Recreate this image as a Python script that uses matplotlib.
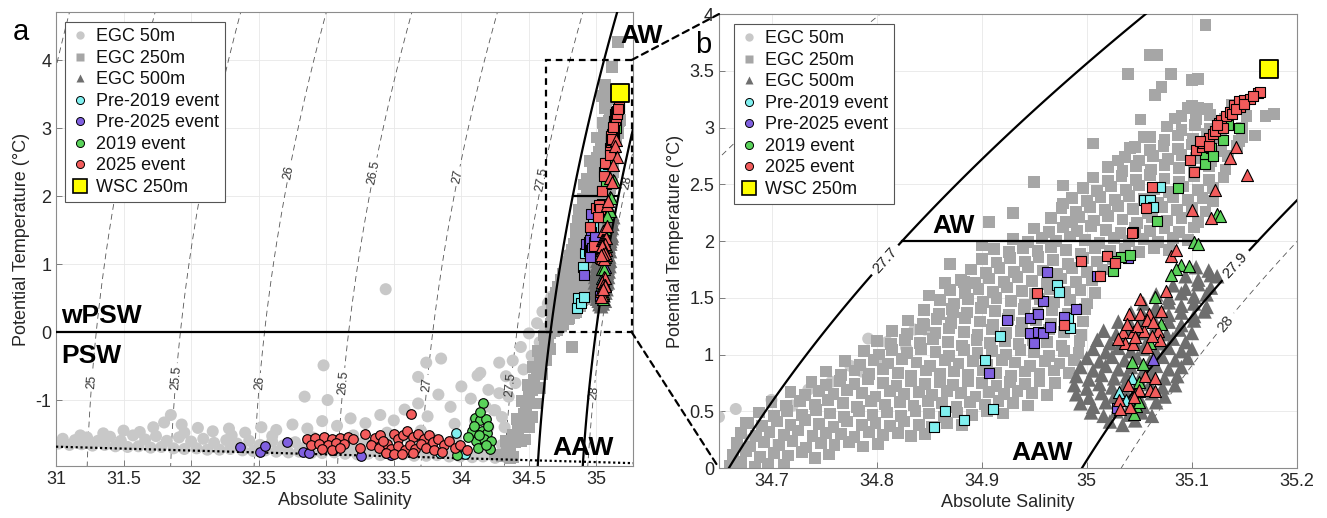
import numpy as np
import matplotlib
matplotlib.use('Agg')
import matplotlib.pyplot as plt
from matplotlib.lines import Line2D
from matplotlib.patches import Rectangle, ConnectionPatch
from matplotlib.ticker import FuncFormatter

plt.rcParams['font.family'] = ['Liberation Sans', 'DejaVu Sans']
plt.rcParams['axes.unicode_minus'] = False
plt.rcParams['lines.dashed_pattern'] = [7.0, 5.0]

# ---------------- data ----------------
# EGC 50 m (light grey circles): (Absolute Salinity, Potential Temperature)
egc50_pts = [
    (31.02,-1.64),(31.10,-1.66),(31.19,-1.65),(31.27,-1.67),(31.36,-1.66),(31.44,-1.68),(31.53,-1.69),(31.61,-1.68),
    (31.70,-1.70),(31.78,-1.69),(31.87,-1.71),(31.95,-1.72),(32.04,-1.71),(32.12,-1.73),(32.21,-1.73),(32.29,-1.72),
    (32.38,-1.74),(32.46,-1.75),(32.55,-1.74),(32.63,-1.76),(32.72,-1.77),(32.80,-1.76),(32.89,-1.78),(32.97,-1.78),
    (33.06,-1.77),(33.14,-1.79),(33.23,-1.80),(33.31,-1.79),(33.40,-1.81),(33.48,-1.81),(33.57,-1.80),(33.65,-1.82),
    (33.74,-1.82),(33.82,-1.81),(33.91,-1.83),(33.99,-1.83),(34.08,-1.84),(34.16,-1.83),(34.25,-1.85),(34.33,-1.84),
    (31.05,-1.57),(31.14,-1.59),(31.23,-1.55),(31.31,-1.60),(31.40,-1.54),(31.48,-1.60),(31.57,-1.52),(31.66,-1.58),
    (31.74,-1.53),(31.82,-1.60),(31.91,-1.55),(32.00,-1.61),(32.09,-1.57),(32.17,-1.63),(32.26,-1.59),(32.34,-1.64),
    (32.43,-1.60),(32.51,-1.66),(32.60,-1.61),(32.68,-1.67),(32.77,-1.62),(32.85,-1.68),(32.94,-1.61),(33.02,-1.69),
    (33.11,-1.62),(33.19,-1.70),(33.28,-1.61),(33.36,-1.71),(33.45,-1.60),(33.53,-1.72),(33.62,-1.58),(33.70,-1.73),
    (33.79,-1.57),(33.87,-1.74),(33.96,-1.55),(34.04,-1.75),(34.13,-1.52),(34.21,-1.74),(34.30,-1.66),
    (31.18,-1.52),(31.35,-1.49),(31.50,-1.45),(31.62,-1.47),(31.72,-1.40),(31.80,-1.33),(31.85,-1.22),(31.93,-1.36),
    (32.05,-1.41),(32.16,-1.46),(32.28,-1.42),(32.40,-1.48),(32.52,-1.40),(32.63,-1.44),(32.75,-1.36),(32.86,-1.42),
    (32.97,-1.31),(33.08,-1.38),(33.18,-1.27),(33.29,-1.34),(33.40,-1.22),(33.50,-1.30),(33.58,-1.14),(33.68,-1.05),
    (33.75,-1.24),(33.83,-0.92),(33.92,-1.10),(34.00,-0.80),(34.07,-0.98),(34.14,-0.60),(34.20,-0.85),(34.25,-1.15),
    (34.28,-0.45),(34.32,-1.40),(33.45,-1.48),(33.70,-1.45),(33.95,-1.35),(34.10,-1.30),(34.18,-1.10),(33.20,-1.52),
    (32.90,-1.55),(32.60,-1.53),(32.30,-1.52),(31.95,-1.48),
    (33.44,0.63),(32.98,-0.49),(32.84,-0.95),(33.01,-1.00),(33.74,-0.45),(33.85,-0.39),(33.68,-0.66),(34.12,-0.64),
    (34.20,-1.40),(34.24,-1.15),(34.28,-0.90),(34.33,-0.65),(34.38,-0.42),(34.44,-0.22),(34.50,-0.02),(34.56,0.13),
    (34.60,0.30),(34.64,0.42),(34.30,-1.25),(34.35,-0.95),(34.40,-0.75),(34.46,-0.55),(34.52,-0.35),(34.58,-0.15),
    (34.62,0.05),(34.68,0.25),
    (34.650,0.45),(34.666,0.52),(34.700,0.60),(34.720,0.55),(34.735,0.69),(34.757,0.76),(34.775,0.90),(34.786,0.85),
    (34.792,1.14),(34.800,0.95),(34.810,1.11),(34.828,1.06),(34.836,1.22),(34.846,1.22),
]

# EGC 250 m (medium grey squares)
egc250_pts = [
    (34.30,-1.82),(34.34,-1.78),(34.38,-1.84),(34.36,-1.70),(34.40,-1.62),(34.38,-1.52),(34.42,-1.45),(34.44,-1.35),
    (34.41,-1.28),(34.46,-1.20),(34.48,-1.10),(34.45,-1.02),(34.50,-0.95),(34.52,-0.85),(34.49,-0.78),(34.54,-0.70),
    (34.56,-0.60),(34.53,-0.52),(34.58,-0.45),(34.60,-0.35),(34.57,-0.28),(34.62,-0.20),(34.64,-0.10),(34.61,-0.05),
    (34.66,-0.02),(34.47,-1.58),(34.50,-1.40),(34.52,-1.25),(34.55,-1.05),(34.58,-0.82),(34.60,-0.62),(34.63,-0.42),
    (34.66,-0.25),(34.82,-0.22),(34.25,-1.80),(34.33,-1.60),(34.44,-1.60),(34.36,-1.85),
    (34.660,0.02),(34.671,0.05),(34.684,0.01),(34.697,0.04),(34.712,0.03),
    (34.663,0.12),(34.676,0.15),(34.689,0.10),(34.702,0.13),(34.716,0.11),(34.729,0.14),(34.741,0.09),(34.755,0.12),
    (34.667,0.22),(34.680,0.19),(34.693,0.23),(34.707,0.20),(34.720,0.24),(34.733,0.18),(34.747,0.22),(34.760,0.20),
    (34.774,0.23),(34.787,0.19),(34.801,0.21),
    (34.671,0.31),(34.685,0.28),(34.698,0.32),(34.712,0.29),(34.725,0.33),(34.739,0.28),(34.752,0.31),(34.766,0.30),
    (34.779,0.27),(34.793,0.32),(34.806,0.29),(34.820,0.31),(34.833,0.28),(34.846,0.30),
    (34.678,0.40),(34.691,0.37),(34.705,0.41),(34.718,0.38),(34.732,0.42),(34.745,0.39),(34.759,0.36),(34.772,0.41),
    (34.786,0.38),(34.799,0.40),(34.813,0.37),(34.826,0.41),(34.840,0.38),(34.853,0.36),(34.867,0.40),(34.881,0.38),
    (34.688,0.49),(34.702,0.46),(34.715,0.50),(34.729,0.47),(34.742,0.51),(34.756,0.48),(34.769,0.45),(34.783,0.50),
    (34.796,0.47),(34.810,0.49),(34.823,0.46),(34.837,0.50),(34.850,0.48),(34.864,0.45),(34.877,0.49),(34.891,0.47),
    (34.905,0.50),(34.920,0.48),
    (34.700,0.58),(34.714,0.55),(34.727,0.59),(34.741,0.56),(34.754,0.60),(34.768,0.57),(34.781,0.54),(34.795,0.59),
    (34.808,0.56),(34.822,0.58),(34.835,0.55),(34.849,0.59),(34.862,0.57),(34.876,0.54),(34.889,0.58),(34.903,0.56),
    (34.916,0.59),(34.930,0.57),(34.944,0.55),
    (34.718,0.67),(34.732,0.64),(34.745,0.68),(34.759,0.65),(34.772,0.69),(34.786,0.66),(34.799,0.63),(34.813,0.68),
    (34.826,0.65),(34.840,0.67),(34.853,0.64),(34.867,0.68),(34.880,0.66),(34.894,0.63),(34.907,0.67),(34.921,0.65),
    (34.934,0.68),(34.948,0.66),(34.962,0.64),
    (34.738,0.76),(34.752,0.73),(34.765,0.77),(34.779,0.74),(34.792,0.78),(34.806,0.75),(34.819,0.72),(34.833,0.77),
    (34.846,0.74),(34.860,0.76),(34.873,0.73),(34.887,0.77),(34.900,0.75),(34.914,0.72),(34.927,0.76),(34.941,0.74),
    (34.955,0.77),(34.970,0.75),
    (34.752,0.85),(34.766,0.82),(34.779,0.86),(34.793,0.83),(34.806,0.87),(34.820,0.84),(34.833,0.81),(34.847,0.86),
    (34.860,0.83),(34.874,0.85),(34.887,0.82),(34.901,0.86),(34.914,0.84),(34.928,0.81),(34.941,0.85),(34.955,0.83),
    (34.969,0.86),(34.983,0.84),
    (34.770,0.94),(34.784,0.91),(34.797,0.95),(34.811,0.92),(34.824,0.96),(34.838,0.93),(34.851,0.90),(34.865,0.95),
    (34.878,0.92),(34.892,0.94),(34.905,0.91),(34.919,0.95),(34.932,0.93),(34.946,0.90),(34.960,0.94),(34.974,0.92),
    (34.988,0.95),
    (34.788,1.03),(34.802,1.00),(34.815,1.04),(34.829,1.01),(34.842,1.05),(34.856,1.02),(34.869,0.99),(34.883,1.04),
    (34.896,1.01),(34.910,1.03),(34.923,1.00),(34.937,1.04),(34.950,1.02),(34.964,0.99),(34.978,1.03),(34.992,1.01),
    (34.800,1.12),(34.814,1.09),(34.827,1.13),(34.841,1.10),(34.854,1.14),(34.868,1.11),(34.881,1.08),(34.895,1.13),
    (34.908,1.10),(34.922,1.12),(34.935,1.09),(34.949,1.13),(34.962,1.11),(34.976,1.08),(34.993,1.12),
    (34.815,1.21),(34.829,1.18),(34.842,1.22),(34.856,1.19),(34.869,1.23),(34.883,1.20),(34.896,1.17),(34.910,1.22),
    (34.923,1.19),(34.937,1.21),(34.950,1.18),(34.964,1.22),(34.978,1.20),(34.995,1.17),
    (34.830,1.30),(34.844,1.27),(34.857,1.31),(34.871,1.28),(34.884,1.32),(34.898,1.29),(34.911,1.26),(34.925,1.31),
    (34.938,1.28),(34.952,1.30),(34.966,1.27),(34.980,1.31),(34.996,1.29),
    (34.845,1.39),(34.859,1.36),(34.872,1.40),(34.886,1.37),(34.899,1.41),(34.913,1.38),(34.926,1.35),(34.940,1.40),
    (34.953,1.37),(34.967,1.39),(34.982,1.36),(34.998,1.40),
    (34.860,1.48),(34.874,1.45),(34.887,1.49),(34.901,1.46),(34.914,1.50),(34.928,1.47),(34.941,1.44),(34.955,1.49),
    (34.969,1.46),(34.984,1.48),(35.000,1.45),
    (34.870,1.57),(34.884,1.54),(34.897,1.58),(34.911,1.55),(34.924,1.59),(34.938,1.56),(34.951,1.53),(34.965,1.58),
    (34.979,1.55),(34.994,1.57),(35.008,1.54),
    (34.880,1.66),(34.894,1.63),(34.907,1.67),(34.921,1.64),(34.934,1.68),(34.948,1.65),(34.962,1.62),(34.976,1.67),
    (34.990,1.64),(35.005,1.66),
    (34.890,1.75),(34.904,1.72),(34.917,1.76),(34.931,1.73),(34.944,1.77),(34.958,1.74),(34.972,1.71),(34.986,1.76),
    (35.000,1.73),(35.015,1.75),
    (34.900,1.84),(34.914,1.81),(34.927,1.85),(34.941,1.82),(34.954,1.86),(34.968,1.83),(34.982,1.80),(34.996,1.85),
    (35.010,1.82),(35.025,1.84),
    (34.912,1.93),(34.926,1.90),(34.939,1.94),(34.953,1.91),(34.966,1.95),(34.980,1.92),(34.994,1.89),(35.008,1.94),
    (35.022,1.91),(35.036,1.93),(35.050,1.90),(35.064,1.94),(35.078,1.92),
    (34.930,2.02),(34.944,1.99),(34.957,2.03),(34.971,2.00),(34.984,2.04),(34.998,2.01),(35.012,1.98),(35.026,2.03),
    (35.040,2.00),(35.054,2.02),(35.068,1.99),(35.082,2.03),(35.096,2.01),
    (34.950,2.11),(34.964,2.08),(34.977,2.12),(34.991,2.09),(35.004,2.13),(35.018,2.10),(35.032,2.07),(35.046,2.12),
    (35.060,2.09),(35.074,2.11),(35.088,2.08),(35.102,2.12),
    (34.966,2.20),(34.980,2.17),(34.993,2.21),(35.007,2.18),(35.020,2.22),(35.034,2.19),(35.048,2.16),(35.062,2.21),
    (35.076,2.18),(35.090,2.20),(35.106,2.17),
    (34.976,2.29),(34.990,2.26),(35.003,2.30),(35.017,2.27),(35.030,2.31),(35.044,2.28),(35.058,2.25),(35.072,2.30),
    (35.086,2.27),(35.100,2.29),(35.113,2.26),
    (34.986,2.38),(35.000,2.35),(35.013,2.39),(35.027,2.36),(35.040,2.40),(35.054,2.37),(35.068,2.34),(35.082,2.39),
    (35.096,2.36),(35.110,2.38),(35.120,2.35),
    (34.996,2.47),(35.010,2.44),(35.023,2.48),(35.037,2.45),(35.050,2.49),(35.064,2.46),(35.078,2.43),(35.092,2.48),
    (35.106,2.45),(35.120,2.47),
    (35.006,2.56),(35.020,2.53),(35.033,2.57),(35.047,2.54),(35.060,2.58),(35.074,2.55),(35.088,2.52),(35.102,2.57),
    (35.116,2.54),(35.130,2.56),
    (35.020,2.65),(35.034,2.62),(35.047,2.66),(35.061,2.63),(35.074,2.67),(35.088,2.64),(35.102,2.61),(35.116,2.66),
    (35.132,2.63),
    (35.036,2.74),(35.050,2.71),(35.063,2.75),(35.077,2.72),(35.090,2.76),(35.104,2.73),(35.118,2.70),(35.134,2.75),
    (35.046,2.83),(35.060,2.80),(35.073,2.84),(35.087,2.81),(35.100,2.85),(35.114,2.82),(35.128,2.79),(35.143,2.84),
    (35.060,2.92),(35.074,2.89),(35.087,2.93),(35.101,2.90),(35.114,2.94),(35.128,2.91),(35.145,2.88),
    (35.076,3.01),(35.090,2.98),(35.103,3.02),(35.117,2.99),(35.130,3.03),(35.148,3.00),
    (35.090,3.10),(35.104,3.07),(35.117,3.11),(35.131,3.08),(35.152,3.10),
    (35.100,3.19),(35.114,3.16),(35.138,3.20),
    (35.113,3.90),(35.060,3.64),(35.067,3.64),(35.039,3.47),(35.080,3.47),(35.071,3.36),(35.065,3.29),(35.100,3.42),
    (35.106,3.43),(35.096,3.17),(35.106,3.17),(35.051,3.07),(35.084,3.08),(35.054,2.92),(35.006,2.86),(35.041,2.82),
    (35.030,2.71),(34.950,2.52),(34.977,2.49),(34.977,2.33),(34.907,2.17),(34.986,2.17),(35.170,3.10),(35.178,3.12),
    (35.160,2.93),(35.148,2.92),(34.900,1.96),(34.865,1.63),(34.883,1.64),(34.873,1.37),(34.845,1.26),(34.676,0.40),
    (35.160,4.27),(34.930,2.25),(34.870,1.80),(34.850,1.52),
]

# EGC 500 m (dark grey triangles)
egc500_pts = [
    (35.022,0.41),(35.034,0.38),(35.046,0.42),
    (35.004,0.49),(35.016,0.46),(35.028,0.50),(35.040,0.47),(35.052,0.49),(35.062,0.46),
    (34.994,0.57),(35.006,0.54),(35.018,0.58),(35.030,0.55),(35.042,0.57),(35.054,0.54),(35.066,0.58),
    (34.990,0.65),(35.002,0.62),(35.014,0.66),(35.026,0.63),(35.038,0.65),(35.050,0.62),(35.062,0.66),(35.074,0.63),
    (34.988,0.73),(35.000,0.70),(35.012,0.74),(35.024,0.71),(35.036,0.73),(35.048,0.70),(35.060,0.74),(35.072,0.71),
    (35.084,0.73),
    (34.990,0.81),(35.002,0.78),(35.014,0.82),(35.026,0.79),(35.038,0.81),(35.050,0.78),(35.062,0.82),(35.074,0.79),
    (35.086,0.81),
    (34.994,0.89),(35.006,0.86),(35.018,0.90),(35.030,0.87),(35.042,0.89),(35.054,0.86),(35.066,0.90),(35.078,0.87),
    (35.090,0.89),
    (35.000,0.97),(35.012,0.94),(35.024,0.98),(35.036,0.95),(35.048,0.97),(35.060,0.94),(35.072,0.98),(35.084,0.95),
    (35.096,0.97),
    (35.006,1.05),(35.018,1.02),(35.030,1.06),(35.042,1.03),(35.054,1.05),(35.066,1.02),(35.078,1.06),(35.090,1.03),
    (35.100,1.05),
    (35.010,1.13),(35.022,1.10),(35.034,1.14),(35.046,1.11),(35.058,1.13),(35.070,1.10),(35.082,1.14),(35.094,1.11),
    (35.016,1.21),(35.028,1.18),(35.040,1.22),(35.052,1.19),(35.064,1.21),(35.076,1.18),(35.088,1.22),(35.100,1.19),
    (35.030,1.29),(35.042,1.26),(35.054,1.30),(35.066,1.27),(35.078,1.29),(35.090,1.26),(35.102,1.30),
    (35.042,1.37),(35.054,1.34),(35.066,1.38),(35.078,1.35),(35.090,1.37),(35.102,1.34),(35.112,1.38),
    (35.054,1.45),(35.066,1.42),(35.078,1.46),(35.090,1.43),(35.102,1.45),(35.114,1.42),
    (35.066,1.53),(35.078,1.50),(35.090,1.54),(35.102,1.51),(35.114,1.53),
    (35.082,1.61),(35.094,1.58),(35.106,1.62),(35.118,1.59),
    (35.094,1.69),(35.106,1.66),(35.118,1.70),(35.124,1.69),
    (35.104,1.77),(35.116,1.74),
]

# Pre-2019 event (cyan)
pre2019_50_S = [33.96, 33.84, 34.03]
pre2019_50_T = [-1.49, -1.78, -1.79]
pre2019_250_S = [35.070, 35.054, 35.060, 35.063, 34.972, 34.974, 34.982, 34.984, 34.917, 34.903, 34.865, 34.855, 34.883, 34.911]
pre2019_250_T = [2.48, 2.36, 2.36, 2.30, 1.61, 1.55, 1.32, 1.23, 1.16, 0.95, 0.50, 0.36, 0.42, 0.52]
pre2019_500_S = [35.043, 35.031, 35.037]
pre2019_500_T = [0.79, 0.67, 0.60]

# Pre-2025 event (purple)
pre2025_50_S = [32.36, 32.51, 32.55, 32.71, 32.83, 32.87, 33.05, 33.26, 33.34, 33.41, 33.44, 33.48]
pre2025_50_T = [-1.69, -1.77, -1.67, -1.61, -1.76, -1.78, -1.74, -1.82, -1.64, -1.69, -1.78, -1.81]
pre2025_250_S = [34.962, 34.958, 34.924, 34.946, 34.954, 34.946, 34.954, 34.958, 34.965, 34.950, 34.978, 34.990,
                 34.907, 35.010, 35.039, 35.029]
pre2025_250_T = [1.73, 1.47, 1.30, 1.32, 1.36, 1.19, 1.20, 1.19, 1.24, 1.10, 1.33, 1.40, 0.84, 1.69, 1.85, 0.53]
pre2025_500_S = [35.063]
pre2025_500_T = [0.96]

# 2019 event (green)
ev2019_50_S = [34.16, 34.10, 34.14, 34.18, 34.08, 34.15, 34.19, 34.11, 34.17, 34.22, 34.12, 34.21, 33.97,
               34.14, 34.09, 34.20, 34.13, 34.18, 34.05]
ev2019_50_T = [-1.05, -1.26, -1.30, -1.28, -1.46, -1.45, -1.48, -1.60, -1.58, -1.60, -1.70, -1.72, -1.81,
               -1.18, -1.38, -1.38, -1.52, -1.66, -1.55]
ev2019_250_S = [35.087, 35.067, 35.112, 35.112, 35.118, 35.130, 35.134, 35.145, 35.120, 35.033, 35.041, 35.025, 35.027]
ev2019_250_T = [2.47, 2.18, 2.68, 2.77, 2.82, 2.89, 3.02, 3.00, 2.75, 1.86, 1.88, 1.74, 1.82]
ev2019_500_S = [35.124, 35.127, 35.102, 35.106, 35.065, 35.043, 35.053, 35.071, 35.047, 35.045, 35.050, 35.050,
                35.090, 35.085, 35.097, 35.080, 35.050, 35.060]
ev2019_500_T = [2.24, 2.22, 1.99, 1.97, 1.51, 0.93, 0.92, 1.27, 0.55, 0.48, 0.58, 0.76, 1.79, 1.75, 1.78, 1.70,
                0.68, 1.10]

# 2025 event (red)
ev2025_50_S = [32.86, 32.92, 32.98, 33.04, 33.10, 33.16, 32.89, 32.95, 33.01, 33.07, 33.13, 32.97, 33.04, 33.10,
               33.20, 33.29, 33.36, 33.40, 33.33, 33.39, 33.45, 33.50, 33.53, 33.57, 33.60, 33.64, 33.68, 33.72,
               33.76, 33.48, 33.53, 33.58, 33.62, 33.66, 33.70, 33.74, 33.79, 33.83, 33.87, 33.91, 33.95, 33.99,
               34.04, 33.44, 33.50, 33.56, 33.64, 33.80, 33.42, 33.25, 33.63, 33.86]
ev2025_50_T = [-1.58, -1.56, -1.55, -1.57, -1.56, -1.55, -1.66, -1.64, -1.66, -1.63, -1.65, -1.72, -1.73, -1.70,
               -1.58, -1.50, -1.56, -1.52, -1.66, -1.70, -1.64, -1.50, -1.58, -1.52, -1.46, -1.55, -1.50, -1.57,
               -1.52, -1.72, -1.68, -1.74, -1.66, -1.72, -1.64, -1.70, -1.62, -1.58, -1.66, -1.60, -1.70, -1.66,
               -1.74, -1.78, -1.80, -1.79, -1.78, -1.74, -1.60, -1.70, -1.21, -1.76]
ev2025_250_S = [35.062, 35.056, 35.044, 35.098, 35.102, 35.104, 35.110, 35.111, 35.116, 35.120, 35.126, 35.128,
                35.132, 35.136, 35.140, 35.146, 35.145, 35.150, 35.155, 35.163, 35.165, 35.122, 35.130, 35.138,
                35.142, 35.150, 35.108, 35.124, 35.116, 35.158, 34.994, 35.019, 35.027, 35.043, 34.953, 34.978,
                35.013]
ev2025_250_T = [2.48, 2.29, 2.08, 2.71, 2.61, 2.80, 2.83, 2.86, 2.91, 2.94, 3.04, 3.07, 3.10, 3.14, 3.20, 3.18,
                3.23, 3.24, 3.25, 3.30, 3.31, 2.97, 3.00, 3.12, 3.16, 3.21, 2.88, 3.02, 2.84, 3.28, 1.82, 1.87,
                1.81, 2.07, 1.54, 1.26, 1.69]
ev2025_500_S = [35.142, 35.136, 35.152, 35.122, 35.100, 35.118, 35.080, 35.085, 35.051, 35.040, 35.051, 35.059,
                35.071, 35.034, 35.044, 35.054, 35.068, 35.036, 35.044, 35.057, 35.070, 35.057, 35.063, 35.075,
                35.055, 35.065, 35.039, 35.050, 35.060, 35.031, 35.041, 35.032, 35.048, 35.038, 35.062, 35.046,
                35.030, 35.065, 35.045]
ev2025_500_T = [2.83, 2.73, 2.58, 2.45, 2.27, 2.20, 1.87, 1.92, 1.49, 1.36, 1.36, 1.36, 1.38, 1.20, 1.20, 1.21,
                1.21, 1.10, 1.09, 1.07, 1.13, 1.30, 1.29, 1.56, 0.81, 0.79, 0.73, 0.69, 0.69, 0.60, 0.54, 0.52,
                1.25, 1.27, 1.16, 1.15, 1.14, 0.68, 0.63]

# WSC 250 m
wsc_S = [35.173]
wsc_T = [3.52]

legend_labels = ['EGC 50m', 'EGC 250m', 'EGC 500m', 'Pre-2019 event', 'Pre-2025 event',
                 '2019 event', '2025 event', 'WSC 250m']

iso_dashed_a = [24.5, 25, 25.5, 26, 26.5, 27, 27.5, 28]
iso_dashed_b = [27.5, 28]
iso_solid = [27.7, 27.97]
iso_solid_labels = {27.7: '27.7', 27.97: '27.9'}

# ---------------- physics helpers ----------------
def sigma0(SA, T):
    S = SA * 35.0 / 35.16504
    rw = (999.842594 + 6.793952e-2 * T - 9.095290e-3 * T**2 + 1.001685e-4 * T**3
          - 1.120083e-6 * T**4 + 6.536332e-9 * T**5)
    A = 8.24493e-1 - 4.0899e-3 * T + 7.6438e-5 * T**2 - 8.2467e-7 * T**3 + 5.3875e-9 * T**4
    B = -5.72466e-3 + 1.0227e-4 * T - 1.6546e-6 * T**2
    C = 4.8314e-4
    return rw + A * S + B * S**1.5 + C * S**2 - 1000.0

def tfreeze(SA):
    S = SA * 35.0 / 35.16504
    return -0.0575 * S + 1.710523e-3 * S**1.5 - 2.154996e-4 * S**2

def sa_on_isopycnal(level, T):
    lo, hi = 29.0, 37.0
    for _ in range(60):
        mid = 0.5 * (lo + hi)
        if sigma0(mid, T) < level:
            lo = mid
        else:
            hi = mid
    return 0.5 * (lo + hi)

def fmt(v):
    return f'{v:g}'

# ---------------- styles ----------------
c50, c250, c500 = '#c8c8c8', '#a6a6a6', '#6e6e6e'
ccyan, cpurp, cgreen, cred = '#80f0f0', '#8060e0', '#5ad25a', '#f25c5c'
txtc = '#262626'

fig = plt.figure(figsize=(13.27, 5.18), dpi=100)
axa = fig.add_axes([0.0422, 0.1004, 0.4348, 0.8764])
axb = fig.add_axes([0.5418, 0.0965, 0.4356, 0.8764])

xlim_a, ylim_a = (31.0, 35.27), (-1.97, 4.706)
xlim_b, ylim_b = (34.65, 35.2), (0.0, 4.0)

SS, TT = np.meshgrid(np.linspace(30.5, 35.9, 500), np.linspace(-2.3, 5.0, 500))
SIG = sigma0(SS, TT)

def split(pts):
    a = np.array(pts)
    return a[:, 0], a[:, 1]

def draw_points(ax):
    s, t = split(egc50_pts)
    ax.scatter(s, t, s=75, marker='o', c=c50, edgecolors='none', zorder=2)
    s, t = split(egc250_pts)
    ax.scatter(s, t, s=72, marker='s', c=c250, edgecolors='none', zorder=2.1)
    s, t = split(egc500_pts)
    ax.scatter(s, t, s=110, marker='^', c=c500, edgecolors='none', zorder=2.2)
    groups = [
        (pre2019_50_S, pre2019_50_T, pre2019_250_S, pre2019_250_T, pre2019_500_S, pre2019_500_T, ccyan),
        (pre2025_50_S, pre2025_50_T, pre2025_250_S, pre2025_250_T, pre2025_500_S, pre2025_500_T, cpurp),
        (ev2019_50_S, ev2019_50_T, ev2019_250_S, ev2019_250_T, ev2019_500_S, ev2019_500_T, cgreen),
        (ev2025_50_S, ev2025_50_T, ev2025_250_S, ev2025_250_T, ev2025_500_S, ev2025_500_T, cred),
    ]
    z = 4
    for s1, t1, s2, t2, s3, t3, col in groups:
        ax.scatter(s1, t1, s=48, marker='o', c=col, edgecolors='k', linewidths=0.8, zorder=z)
        ax.scatter(s2, t2, s=48, marker='s', c=col, edgecolors='k', linewidths=0.8, zorder=z)
        ax.scatter(s3, t3, s=75, marker='^', c=col, edgecolors='k', linewidths=0.8, zorder=z)
        z += 0.1
    ax.scatter(wsc_S, wsc_T, s=160, marker='s', c='#ffff00', edgecolors='k', linewidths=1.3, zorder=5)

def style_axes(ax):
    ax.grid(True, color='#e8e8e8', lw=0.6)
    ax.set_axisbelow(True)
    for sp in ax.spines.values():
        sp.set_color('#8c8c8c')
        sp.set_linewidth(0.8)
    ax.tick_params(direction='in', length=4, width=0.6, color='#6a6a6a',
                   labelsize=13, labelcolor=txtc)
    ax.xaxis.set_major_formatter(FuncFormatter(lambda v, p: fmt(round(v, 3))))
    ax.yaxis.set_major_formatter(FuncFormatter(lambda v, p: fmt(round(v, 3))))
    ax.set_xlabel('Absolute Salinity', fontsize=13, color=txtc, labelpad=3)
    ax.set_ylabel('Potential Temperature (°C)', fontsize=13, color=txtc, labelpad=4)

def legend(ax, x, y):
    h = [
        Line2D([], [], ls='none', marker='o', ms=6, mfc=c50, mec='none'),
        Line2D([], [], ls='none', marker='s', ms=5.2, mfc=c250, mec='none'),
        Line2D([], [], ls='none', marker='^', ms=6, mfc=c500, mec='none'),
        Line2D([], [], ls='none', marker='o', ms=5.8, mfc=ccyan, mec='k', mew=0.7),
        Line2D([], [], ls='none', marker='o', ms=5.8, mfc=cpurp, mec='k', mew=0.7),
        Line2D([], [], ls='none', marker='o', ms=5.8, mfc=cgreen, mec='k', mew=0.7),
        Line2D([], [], ls='none', marker='o', ms=5.8, mfc=cred, mec='k', mew=0.7),
        Line2D([], [], ls='none', marker='s', ms=10, mfc='#ffff00', mec='k', mew=1.2),
    ]
    leg = ax.legend(h, legend_labels, loc='upper left', bbox_to_anchor=(x, y), fontsize=13,
                    handlelength=1.0, handletextpad=0.35, labelspacing=0.25, borderpad=0.35,
                    borderaxespad=0, frameon=True, fancybox=False, edgecolor='#555555',
                    framealpha=1)
    leg.get_frame().set_linewidth(0.8)
    leg.set_zorder(20)
    for t in leg.get_texts():
        t.set_color('#111111')

bold = dict(fontsize=19, fontweight='bold', color='k', ha='left', va='baseline', zorder=12)

# ---------------- panel a ----------------
axa.set_xlim(*xlim_a)
axa.set_ylim(*ylim_a)
cs_a = axa.contour(SS, TT, SIG, levels=iso_dashed_a, colors='#555555', linewidths=0.6,
                   linestyles='dashed', zorder=1)
axa.clabel(cs_a, inline=True, fmt=fmt, fontsize=9, colors='#333333',
           inline_spacing=3,
           manual=[(31.26, -0.73), (31.90, -0.68), (32.51, -0.75), (33.13, -0.75), (33.76, -0.78),
                   (34.38, -0.78), (35.02, -0.90), (32.74, 2.34), (33.37, 2.34), (34.00, 2.28),
                   (34.61, 2.24), (35.24, 2.19)])
axa.contour(SS, TT, SIG, levels=iso_solid, colors='k', linewidths=1.6, zorder=3)
draw_points(axa)
s0 = sa_on_isopycnal(iso_solid[0], 0.0)
axa.plot([xlim_a[0], s0], [0, 0], color='k', lw=1.6, zorder=3)
axa.plot([sa_on_isopycnal(iso_solid[0], 2.0), sa_on_isopycnal(iso_solid[1], 2.0)], [2, 2],
         color='k', lw=1.6, zorder=3)
sf = np.linspace(xlim_a[0], xlim_a[1], 200)
axa.plot(sf, tfreeze(sf), color='k', lw=1.6, ls=(0, (1, 1.2)), zorder=3.5)
box = Rectangle((34.63, 0), 35.26 - 34.63, 4, fill=False, ec='k', lw=1.6,
                ls=(0, (3, 2.2)), zorder=9, clip_on=False)
axa.add_patch(box)
axa.set_xticks([31, 31.5, 32, 32.5, 33, 33.5, 34, 34.5, 35])
axa.set_yticks([-1, 0, 1, 2, 3, 4])
style_axes(axa)
legend(axa, 0.0156, 0.978)
axa.text(31.04, 0.13, 'wPSW', **bold)
axa.text(31.04, -0.46, 'PSW', **bold)
axa.text(34.67, -1.81, 'AAW', **bold)
axa.text(35.18, 4.25, 'AW', clip_on=False, **bold)

# ---------------- panel b ----------------
axb.set_xlim(*xlim_b)
axb.set_ylim(*ylim_b)
axb.contour(SS, TT, SIG, levels=[iso_dashed_b[0]], colors='#555555', linewidths=0.6,
            linestyles='dashed', zorder=1)
cs_b = axb.contour(SS, TT, SIG, levels=[iso_dashed_b[1]], colors='#555555', linewidths=0.6,
                   linestyles='dashed', zorder=1)
axb.clabel(cs_b, inline=True, fmt=fmt, fontsize=11, colors='#333333',
           manual=[(35.128, 1.30)])
cs_s = axb.contour(SS, TT, SIG, levels=iso_solid, colors='k', linewidths=1.6, zorder=3)
axb.clabel(cs_s, inline=True, fmt=iso_solid_labels, fontsize=11, colors='#222222',
           manual=[(34.806, 1.85), (35.141, 1.79)])
draw_points(axb)
axb.plot([sa_on_isopycnal(iso_solid[0], 2.0), sa_on_isopycnal(iso_solid[1], 2.0)], [2, 2],
         color='k', lw=1.6, zorder=3)
axb.set_xticks([34.7, 34.8, 34.9, 35.0, 35.1, 35.2])
axb.set_yticks([0, 0.5, 1, 1.5, 2, 2.5, 3, 3.5, 4])
style_axes(axb)
legend(axb, 0.026, 0.978)
axb.text(34.853, 2.07, 'AW', **bold)
axb.text(34.928, 0.07, 'AAW', **bold)

# connectors
for yv in (4, 0):
    con = ConnectionPatch(xyA=(35.26, yv), coordsA=axa.transData,
                          xyB=(xlim_b[0], yv), coordsB=axb.transData,
                          color='k', lw=1.6, ls=(0, (3, 2.2)), zorder=30, clip_on=False)
    fig.add_artist(con)

fig.text(0.0098, 0.9228, 'a', fontsize=21, color='k', ha='left', va='baseline')
fig.text(0.5237, 0.8977, 'b', fontsize=21, color='k', ha='left', va='baseline')

fig.savefig('out.png', dpi=100)
